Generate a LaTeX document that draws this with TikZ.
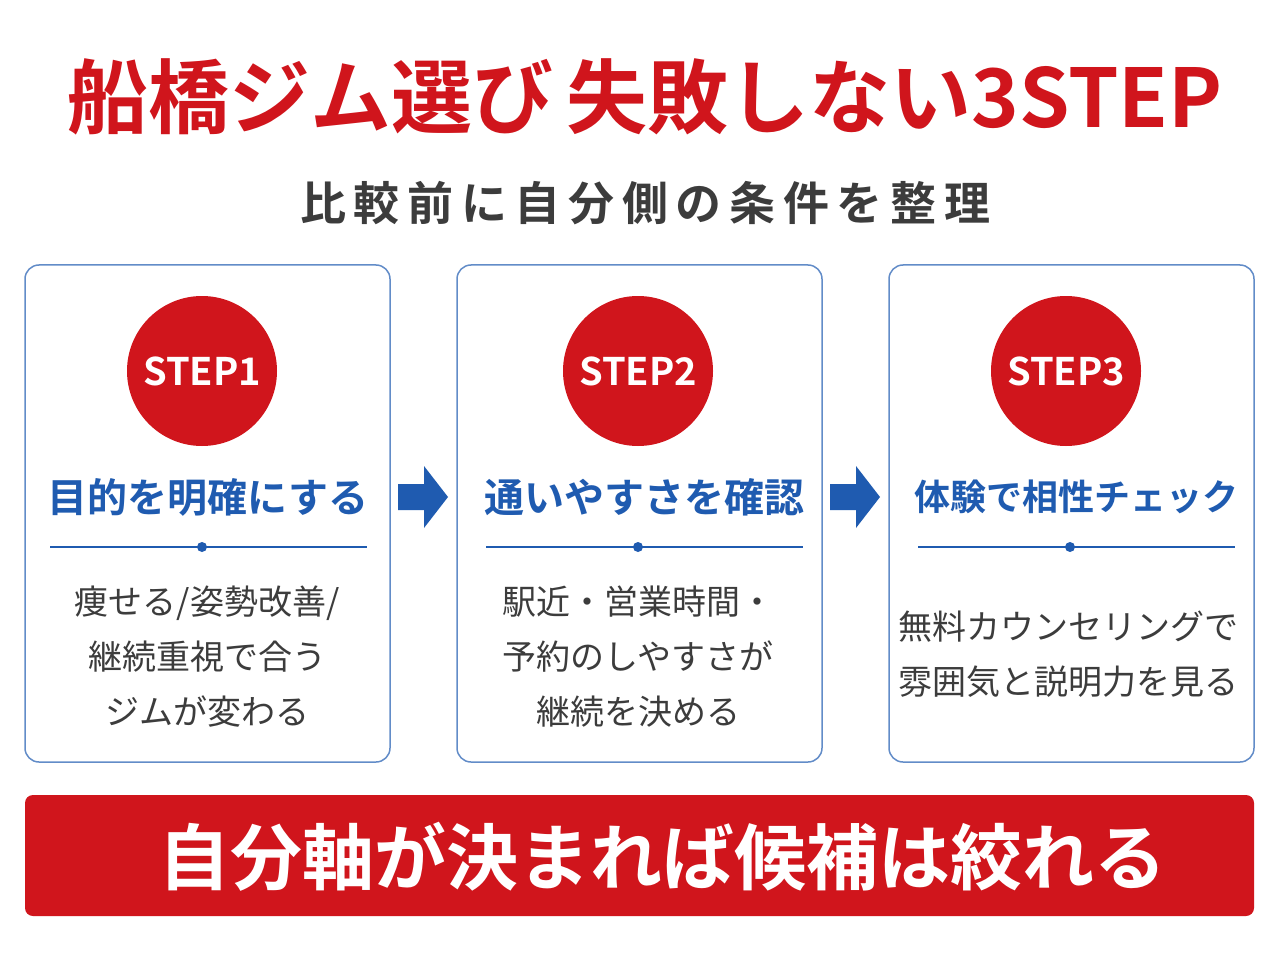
\documentclass[tikz,border=0pt]{standalone}
\usepackage{fontspec}
\setmainfont{Noto Sans CJK JP}[BoldFont={Noto Sans CJK JP Bold}]
\definecolor{myred}{HTML}{D0151C}
\definecolor{myblue}{HTML}{1F5BB0}
\definecolor{mygray}{HTML}{3C3C3C}
\usetikzlibrary{arrows.meta}
\begin{document}
\begin{tikzpicture}[x=1pt,y=-1pt,
  card/.style={draw=myblue!70,line width=1.5pt,rounded corners=14pt},
  badge/.style={circle,fill=myred,minimum size=150pt,inner sep=0pt,text=white,font=\fontsize{38}{38}\selectfont\bfseries},
  head/.style={text=myblue,font=\fontsize{40}{40}\selectfont\bfseries},
  body/.style={text=mygray,align=center,font=\fontsize{34}{55}\selectfont},
  sep/.style={draw=myblue,line width=1.2pt},
  dot/.style={circle,fill=myblue,inner sep=0pt,minimum size=10pt},
  flow/.style={draw=none,fill=myblue}]
\useasboundingbox (0,0) rectangle (1280,960);
\fill[white] (0,0) rectangle (1280,960);
\node[text=myred,font=\fontsize{81}{81}\selectfont\bfseries] (title) at (645,97) {船橋ジム選び\,失敗しない3STEP};
\node[text=mygray,font=\fontsize{46}{46}\selectfont\bfseries] (sub) at (645,203) {比\,較\,前\,に\,自\,分\,側\,の\,条\,件\,を\,整\,理};
\foreach \i/\x/\cx/\bx/\h/\s/\f in {1/25/202/202/目的を明確にする/STEP1/40,2/457/638/638/通いやすさを確認/STEP2/40,3/889/1070/1066/体験で相性チェック/STEP3/36}{
  \draw[card] (\x,265) rectangle ++(365,497);
  \node[badge] (b\i) at (\bx,371) {\s};
  \node[head,font=\fontsize{\f}{\f}\selectfont\bfseries] (h\i) at (\cx+6,497) {\h};
  \draw[sep] (\cx-152,547) -- (\cx+165,547);
  \node[dot] (d\i) at (\cx,547) {};
}
\node[body] (t1) at (207,657) {痩せる/姿勢改善/\\継続重視で合う\\ジムが変わる};
\node[body] (t2) at (638,657) {駅近・営業時間・\\予約のしやすさが\\継続を決める};
\node[body] (t3) at (1068,654) {無料カウンセリングで\\雰囲気と説明力を見る};
\foreach \a in {398,830}{
  \fill[myblue] (\a,484) -- (\a+26,484) -- (\a+26,466) -- (\a+50,497) -- (\a+26,528) -- (\a+26,510) -- (\a,510) -- cycle;
}
\fill[myred,rounded corners=8pt] (25,795) rectangle (1254,916);
\node[text=white,font=\fontsize{72}{72}\selectfont\bfseries] (bottom) at (662,857) {自分軸が決まれば候補は絞れる};
\end{tikzpicture}
\end{document}
